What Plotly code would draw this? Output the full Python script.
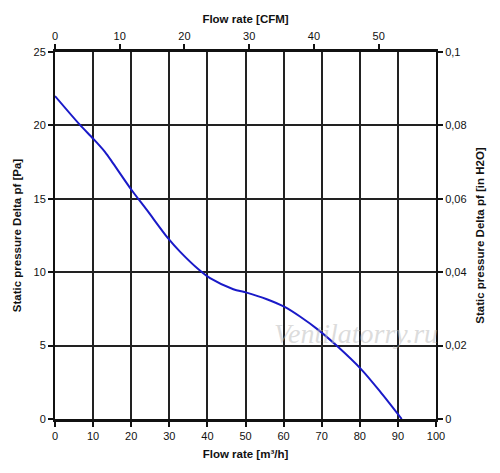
import plotly.graph_objects as go

# Data
flow_m3h = [0, 6.5, 10, 13.1, 15.3, 20.1, 24.1, 29.7, 32.8, 37.8, 40.7, 46.8, 50.3, 55.6, 60.4, 64.3, 69.1, 73.9, 80.5, 85.3, 91.0]
pressure_pa = [22.0, 20.05, 19.1, 18.2, 17.4, 15.6, 14.24, 12.3, 11.4, 10.16, 9.59, 8.84, 8.61, 8.16, 7.62, 6.98, 6.07, 5.0, 3.35, 1.88, 0.0]

x_ticks_m3h = [0, 10, 20, 30, 40, 50, 60, 70, 80, 90, 100]
x_ticks_cfm = [0, 10, 20, 30, 40, 50]
y_ticks_pa = [0, 5, 10, 15, 20, 25]
y_ticks_inh2o = [0, 0.02, 0.04, 0.06, 0.08, 0.1]

M3H_PER_CFM = 1.699

fig = go.Figure()
fig.add_trace(go.Scatter(
    x=flow_m3h, y=pressure_pa, mode="lines",
    line=dict(color="#1a1ac8", width=2, shape="spline", smoothing=0.8),
    showlegend=False, hoverinfo="skip",
))
# invisible traces to activate secondary axes
fig.add_trace(go.Scatter(x=[0], y=[0], xaxis="x2", yaxis="y2", mode="markers",
                         marker=dict(opacity=0), showlegend=False, hoverinfo="skip"))

font = dict(family="Liberation Sans, Arial, sans-serif", size=11, color="#111")
title_font = dict(family="Liberation Sans, Arial, sans-serif", size=11.5, color="#111")

common = dict(ticks="outside", ticklen=5, tickwidth=1.5, tickcolor="#111", automargin=False,
              showline=True, linecolor="#111", zeroline=False, tickfont=font)

fig.update_layout(
    width=500, height=473,
    margin=dict(l=47, r=72, t=44, b=62),
    paper_bgcolor="white", plot_bgcolor="white",
    separators=", ",
    xaxis=dict(range=[0, 100], tickvals=x_ticks_m3h, showgrid=True, gridcolor="#222", gridwidth=1.5,
               linewidth=2.5, title=dict(text="<b>Flow rate [m³/h]</b>", font=title_font, standoff=9), **common),
    xaxis2=dict(range=[0, 100 / M3H_PER_CFM], tickvals=x_ticks_cfm, overlaying="x", side="top",
                showgrid=False, linewidth=2.5, title=dict(text="<b>Flow rate [CFM]</b>", font=title_font, standoff=4), **common),
    yaxis=dict(range=[0, 25], tickvals=y_ticks_pa, showgrid=True, gridcolor="#222", gridwidth=1.5,
               linewidth=2, title=dict(text="<b>Static pressure Delta pf [Pa]</b>", font=title_font, standoff=10), **common),
    yaxis2=dict(range=[0, 0.1], tickvals=y_ticks_inh2o, overlaying="y", side="right", showgrid=False,
                linewidth=2, title=dict(text="<b>Static pressure Delta pf [in H2O]</b>", font=title_font, standoff=10), **common),
    annotations=[dict(text="<i>Ventilatorry.ru</i>", xref="x", yref="y", x=79, y=5.8,
                      showarrow=False, font=dict(family="Liberation Serif, serif", size=28, color="rgba(185,185,185,0.5)"))],
)

fig.write_html("out.html")
